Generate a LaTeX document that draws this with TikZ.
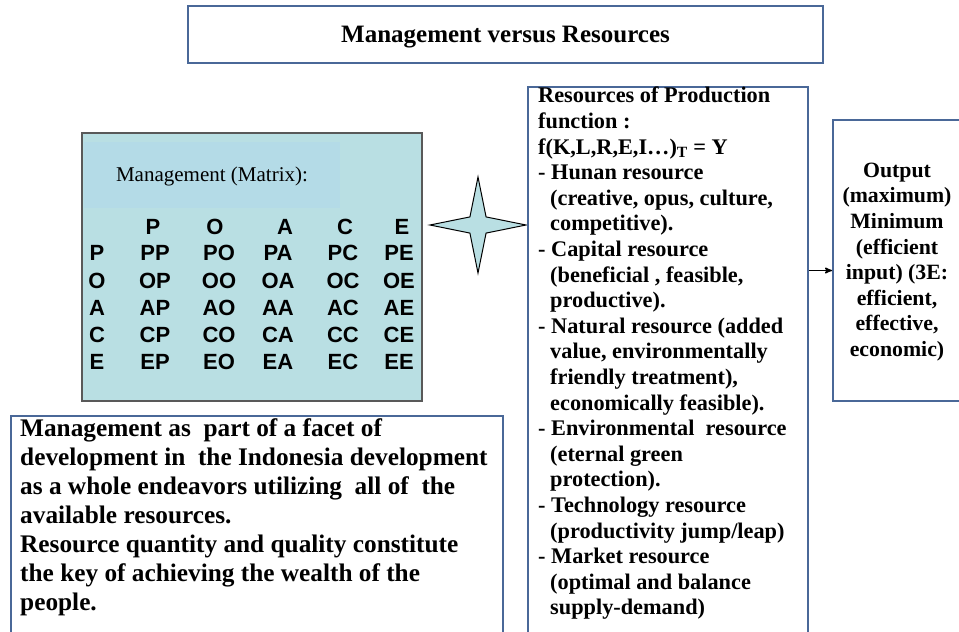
\documentclass[tikz,border=0pt]{standalone}
\usepackage{fontspec}
\setmainfont{Liberation Serif}
\setsansfont{Liberation Sans}
\usetikzlibrary{arrows,positioning,shapes,calc}
\definecolor{boxblue}{RGB}{74,104,152}
\definecolor{matfill}{RGB}{185,223,227}
\definecolor{matband}{RGB}{180,219,231}
\tikzset{
    %Define standard arrow tip
    >=stealth',
    % Define frame style
    frame/.style={
           draw=boxblue,
           line width=2pt,
           inner sep=0pt},
    % Define matrix entry style
    cell/.style={
           font=\sffamily\bfseries\fontsize{22}{26}\selectfont,
           inner sep=0pt},
    % Define body text style
    body/.style={
           anchor=north west,
           align=left,
           inner sep=0pt}
}

\begin{document}
\begin{tikzpicture}[x=1pt,y=-1pt]
\useasboundingbox (0,0) rectangle (959,632);
\clip (0,0) rectangle (959,632);

\node[frame, minimum width=635, minimum height=57, text depth=0pt, font=\bfseries\fontsize{25}{29}\selectfont] (title) at (505.5,34.5) {Management versus Resources};

% management matrix
\node[draw=black!65, fill=matfill, line width=1.5pt, anchor=north west, minimum width=340, minimum height=268] (mgmt) at (81,132) {};
\fill[matband] (84,142) rectangle (340,208);
\node[inner sep=0pt, font=\fontsize{21}{24}\selectfont] (mgmtlabel) at (212,176) {Management (Matrix):};

\foreach \c/\x [count=\j] in {P/153,O/215,A/285,C/345,E/402}
  \node[cell] (head-\j) at (\x,227) {\c};
\foreach \r/\y [count=\i] in {P/253,O/281,A/308,C/335,E/362} {
  \node[cell] (row-\i) at (97,\y) {\r};
  \foreach \c/\x [count=\j] in {P/155,O/219,A/278,C/343,E/399}
    \node[cell] (m-\i-\j) at (\x,\y) {\r\c};
}

\node[star, star points=4, star point ratio=4.2, minimum size=96, draw, fill=matfill, line width=1pt, inner sep=0pt] (star) at (478,225) {};

% resources of production
\node[frame, anchor=north west, minimum width=280, minimum height=580] (res) at (527,86) {};
\node[body, font=\bfseries\fontsize{22.3}{25.6}\selectfont] (restext) at (538,87) {%
Resources of Production\\
function :\\
f(K,L,R,E,I\ldots)\textsubscript{T} = Y\\
- Hunan resource\\
\hspace*{12pt}(creative, opus, culture,\\
\hspace*{12pt}competitive).\\
- Capital resource\\
\hspace*{12pt}(beneficial , feasible,\\
\hspace*{12pt}productive).\\
- Natural resource (added\\
\hspace*{12pt}value, environmentally\\
\hspace*{12pt}friendly treatment),\\
\hspace*{12pt}economically feasible).\\
- Environmental\ \ resource\\
\hspace*{12pt}(eternal green\\
\hspace*{12pt}protection).\\
- Technology resource\\
\hspace*{12pt}(productivity jump/leap)\\
- Market resource\\
\hspace*{12pt}(optimal and balance\\
\hspace*{12pt}supply-demand)};

% output
\node[frame, anchor=north west, minimum width=150, minimum height=281] (out) at (832,119) {};
\node[align=center, inner sep=0pt, font=\bfseries\fontsize{21.8}{25.6}\selectfont] (outtext) at (897,262) {%
Output\\ (maximum)\\ Minimum\\ (efficient\\ input) (3E:\\ efficient,\\ effective,\\ economic)};

\coordinate (tip) at ([yshift=-10pt]out.west);
\draw[->, line width=1.4pt] (res.east |- tip) -- (tip);

% note
\node[frame, anchor=north west, minimum width=492, minimum height=260] (note) at (10,415) {};
\node[body, font=\bfseries\fontsize{25.3}{29}\selectfont] (notetext) at (20,418) {%
Management as\ \ part of a facet of\\
development in\ \ the Indonesia development\\
as a whole endeavors utilizing\ \ all of\ \ the\\
available resources.\\
Resource quantity and quality constitute\\
the key of achieving the wealth of the\\
people.};
\end{tikzpicture}
\end{document}
